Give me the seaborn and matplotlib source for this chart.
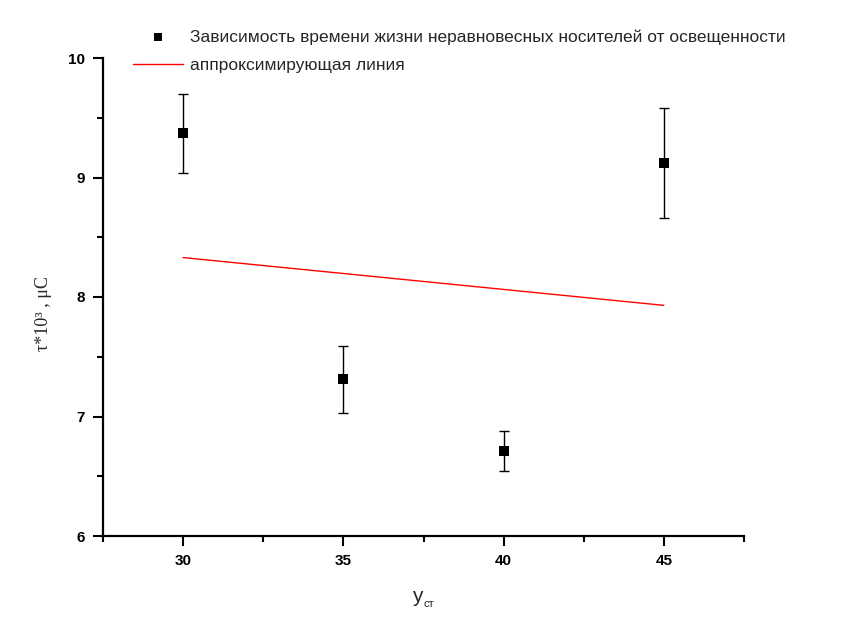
import matplotlib
matplotlib.use("Agg")
import matplotlib.pyplot as plt
import seaborn as sns
import pandas as pd
from matplotlib.ticker import MultipleLocator

# data
x_vals = [30, 35, 40, 45]
tau_vals = [9.37, 7.31, 6.71, 9.12]
tau_err = [0.33, 0.28, 0.165, 0.46]
fit_x = [30, 45]
fit_y = [8.33, 7.93]

series_label = "Зависимость времени жизни неравновесных носителей от освещенности"
fit_label = "аппроксимирующая линия"

sns.set_theme(style="white")
plt.rcParams['font.family'] = ['Liberation Sans', 'DejaVu Sans']

fig = plt.figure(figsize=(8.52, 6.29), dpi=100)
ax = fig.add_axes([103/852, 1-536/629, (744-103)/852, (536-58)/629])

df = pd.DataFrame({"x": x_vals, "tau": tau_vals})
fit_df = pd.DataFrame({"x": fit_x, "tau": fit_y})

ax.errorbar(x_vals, tau_vals, yerr=tau_err, fmt='none', ecolor='black',
            elinewidth=1.0, capsize=3.3, capthick=1.0, zorder=2)
sns.scatterplot(data=df, x="x", y="tau", marker='s', s=52, color='black',
                edgecolor='black', linewidth=0, ax=ax, zorder=3, label=series_label)
sns.lineplot(data=fit_df, x="x", y="tau", color='red', linewidth=1.0, ax=ax,
             label=fit_label, zorder=2)

ax.set_xlim(27.5, 47.5)
ax.set_ylim(6, 10)
ax.xaxis.set_major_locator(MultipleLocator(5))
ax.xaxis.set_minor_locator(MultipleLocator(2.5))
ax.yaxis.set_major_locator(MultipleLocator(1))
ax.yaxis.set_minor_locator(MultipleLocator(0.5))

for s in ['top', 'right']:
    ax.spines[s].set_visible(False)
for s in ['left', 'bottom']:
    ax.spines[s].set_linewidth(1.6)
    ax.spines[s].set_color('black')

ax.tick_params(which='major', direction='out', length=7, width=1.5, colors='black',
               labelsize=11, left=True, bottom=True, pad=6)
ax.tick_params(which='minor', direction='out', length=4, width=1.5, colors='black',
               left=True, bottom=True)
for lab in ax.get_xticklabels() + ax.get_yticklabels():
    lab.set_fontweight('bold')

ax.set_xlabel("")
ax.set_ylabel("")
fig.text(417/852, 1-602/629, "y", fontsize=15, ha='center', va='baseline')
fig.text(424/852, 1-607/629, "ст", fontsize=8, ha='left', va='baseline')
fig.text(44/852, 1-314/629, "τ*10³ , μC", fontsize=13, rotation=90,
         ha='center', va='center', family=['Liberation Serif', 'DejaVu Serif'])

ax.get_legend().remove()
h, l = ax.get_legend_handles_labels()
fig.legend(h, l, loc='upper left', bbox_to_anchor=(133/852, 1-29.5/629), frameon=False,
           fontsize=12.5, handlelength=2.88, handletextpad=0.4, labelspacing=0.75,
           borderpad=0, borderaxespad=0, markerscale=0.8)

ax.set_facecolor('white')
fig.patch.set_facecolor('white')
fig.savefig("out.png", dpi=100)
